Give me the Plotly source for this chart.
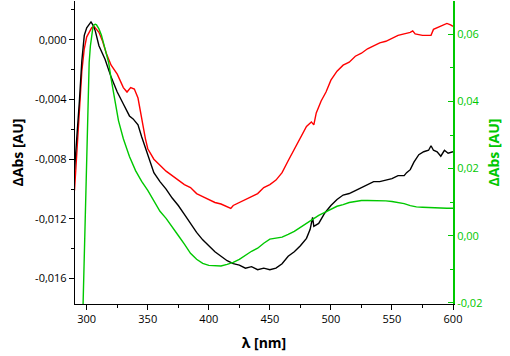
import plotly.graph_objects as go

# ---- data ----
wl_black = [290, 292, 294, 296, 298, 300, 302, 303.5, 305, 307, 310, 315, 320, 325, 330, 335, 338, 342,
            345, 350, 355, 360, 365, 370, 375, 380, 385, 390, 395, 400, 405, 410, 415, 420, 425, 430,
            435, 440, 445, 450, 455, 460, 465, 470, 475, 480, 483, 485, 486, 490, 495, 500, 505, 510,
            515, 520, 525, 530, 535, 540, 545, 550, 555, 560, 562, 565, 568, 572, 576, 580, 582, 584,
            587, 590, 593, 596, 600]
abs_black = [-0.0087, -0.0067, -0.0041, -0.0014, 0.0003, 0.0008, 0.00107, 0.0012, 0.0010, 0.0006,
             -0.0004, -0.0013, -0.0025, -0.0035, -0.0043, -0.0051, -0.0053, -0.0057, -0.0065, -0.0077,
             -0.0089, -0.0095, -0.0100, -0.0106, -0.0111, -0.0117, -0.0123, -0.0129, -0.0134, -0.0138,
             -0.0142, -0.0145, -0.0148, -0.0150, -0.0151, -0.0153, -0.0152, -0.0154, -0.0153, -0.0154,
             -0.0153, -0.0150, -0.0145, -0.0142, -0.0138, -0.0133, -0.0127, -0.0119, -0.0125, -0.0123,
             -0.0116, -0.0111, -0.0107, -0.0104, -0.0103, -0.0101, -0.0099, -0.0097, -0.0095, -0.0095,
             -0.0094, -0.0093, -0.0091, -0.0091, -0.0089, -0.0087, -0.0082, -0.0077, -0.0075, -0.0074,
             -0.0071, -0.0074, -0.0075, -0.0078, -0.0074, -0.0076, -0.0075]

wl_red = [290, 292, 294, 296, 298, 300, 302, 304, 306, 308, 310, 313, 316, 320, 325, 330, 333, 336, 339,
          342, 345, 348, 350, 355, 360, 365, 370, 375, 380, 385, 390, 395, 400, 405, 410, 415, 418, 420,
          425, 430, 435, 440, 445, 450, 455, 460, 465, 470, 475, 480, 484, 486, 488, 492, 496, 500, 505,
          510, 515, 520, 525, 530, 535, 540, 545, 550, 555, 560, 565, 567, 569, 575, 580, 582, 584, 590,
          595, 598, 600]
abs_red = [-0.0101, -0.0074, -0.0044, -0.0021, -0.0006, 0.0002, 0.0005, 0.0008, 0.0009, 0.0007, 0.0005,
           -0.0001, -0.0009, -0.0017, -0.0023, -0.0032, -0.0035, -0.0032, -0.0033, -0.0039, -0.0053,
           -0.0066, -0.0073, -0.0080, -0.0084, -0.0088, -0.0091, -0.0094, -0.0097, -0.0099, -0.0103,
           -0.0105, -0.0107, -0.0109, -0.0110, -0.0112, -0.0113, -0.0111, -0.0109, -0.0107, -0.0105,
           -0.0103, -0.0099, -0.0097, -0.0094, -0.0089, -0.0081, -0.0073, -0.0065, -0.0058, -0.0055,
           -0.0057, -0.0049, -0.0041, -0.0035, -0.0027, -0.0021, -0.0017, -0.0015, -0.0011, -0.0009,
           -0.0006, -0.0004, -0.0002, -0.0001, 0.0001, 0.0003, 0.0004, 0.0005, 0.0006, 0.0004, 0.0003,
           0.0003, 0.0003, 0.0007, 0.0009, 0.0011, 0.0010, 0.0009]

wl_green = [296, 297, 298, 299, 300, 301, 302, 303, 304, 305, 306, 307, 308, 310, 312, 315, 318, 320, 323,
            326, 330, 335, 340, 345, 350, 355, 360, 365, 370, 375, 380, 385, 390, 395, 400, 405, 410,
            415, 420, 425, 430, 435, 440, 445, 450, 455, 460, 465, 470, 475, 480, 485, 490, 495, 500,
            505, 510, 515, 520, 525, 530, 535, 540, 545, 550, 555, 560, 565, 570, 575, 580, 585, 590,
            595, 600]
abs_green = [-0.035, -0.0200, -0.0102, 0.0076, 0.0224, 0.0402, 0.0515, 0.0565, 0.0601, 0.0619, 0.0628,
             0.0630, 0.0628, 0.0616, 0.0598, 0.0559, 0.0515, 0.0467, 0.0402, 0.0343, 0.0289, 0.0236,
             0.0194, 0.0162, 0.0135, 0.0102, 0.0073, 0.0052, 0.0028, 0.0001, -0.0025, -0.0052, -0.0070,
             -0.0082, -0.0088, -0.0090, -0.0090, -0.0085, -0.0079, -0.0070, -0.0058, -0.0046, -0.0037,
             -0.0022, -0.0010, -0.0007, -0.0004, 0.0004, 0.0013, 0.0025, 0.0037, 0.0049, 0.0061, 0.0070,
             0.0079, 0.0088, 0.0093, 0.0099, 0.0102, 0.0105, 0.0105, 0.0105, 0.0105, 0.0104, 0.0102,
             0.0099, 0.0096, 0.0090, 0.0086, 0.0085, 0.0085, 0.0083, 0.0083, 0.0082, 0.0082]

x_ticks = [300, 350, 400, 450, 500, 550, 600]
y1_ticks = [0.0, -0.004, -0.008, -0.012, -0.016]
y1_labels = ["0,000", "-0,004", "-0,008", "-0,012", "-0,016"]
y2_ticks = [-0.02, 0.0, 0.02, 0.04, 0.06]
y2_labels = ["-0,02", "0,00", "0,02", "0,04", "0,06"]

GREEN = "#00c800"
FONT = "Open Sans"

fig = go.Figure()
fig.add_trace(go.Scatter(x=wl_red, y=abs_red, mode="lines", line=dict(color="#ff0000", width=1.4),
                         showlegend=False))
fig.add_trace(go.Scatter(x=wl_black, y=abs_black, mode="lines", line=dict(color="#000000", width=1.4),
                         showlegend=False))
fig.add_trace(go.Scatter(x=wl_green, y=abs_green, mode="lines", line=dict(color=GREEN, width=1.4),
                         yaxis="y2", showlegend=False))

fig.update_layout(
    width=510, height=356,
    margin=dict(l=75, r=57, t=1, b=52),
    plot_bgcolor="white", paper_bgcolor="white",
    font=dict(family=FONT, size=11, color="black"),
    xaxis=dict(range=[290.4, 600], tickmode="array", tickvals=x_ticks,
               ticktext=[str(v) for v in x_ticks],
               showline=True, linecolor="black", linewidth=1.3, showgrid=False, zeroline=False,
               ticks="outside", ticklen=5, tickcolor="black",
               minor=dict(dtick=25, tick0=0, ticks="outside", ticklen=3, tickcolor="black"),
               title=dict(text="<b>λ [nm]</b>", font=dict(size=14), standoff=12)),
    yaxis=dict(range=[-0.0177, 0.0026], tickmode="array", tickvals=y1_ticks, ticktext=y1_labels,
               showline=True, linecolor="black", linewidth=1.3, showgrid=False, zeroline=False,
               ticks="outside", ticklen=5, tickcolor="black",
               minor=dict(dtick=0.002, tick0=0, ticks="outside", ticklen=3, tickcolor="black"),
               title=dict(text="<b>ΔAbs [AU]</b>", font=dict(size=14), standoff=8)),
    yaxis2=dict(range=[-0.0203, 0.0699], overlaying="y", side="right", anchor="x",
                tickmode="array", tickvals=y2_ticks, ticktext=y2_labels,
                showline=True, linecolor=GREEN, linewidth=2, showgrid=False, zeroline=False,
                ticks="inside", ticklen=5, tickcolor=GREEN,
                minor=dict(dtick=0.01, tick0=0, ticks="inside", ticklen=3, tickcolor=GREEN),
                tickfont=dict(color=GREEN),
                title=dict(text="<b>ΔAbs [AU]</b>", font=dict(size=14, color=GREEN), standoff=8)),
)

fig.write_html("out.html", config={"displayModeBar": False},
               post_script="document.body.style.margin='0';")
